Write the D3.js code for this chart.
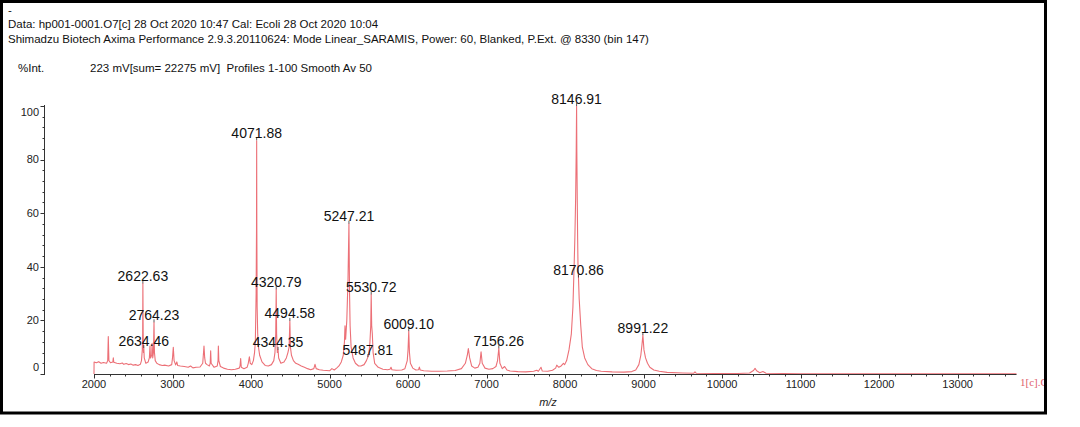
<!DOCTYPE html>
<html><head><meta charset="utf-8">
<script src="https://cdn.jsdelivr.net/npm/d3@7"></script>
<style>
html,body{margin:0;padding:0;background:#fff;}
svg text{font-family:"Liberation Sans",Arial,sans-serif;}
</style></head>
<body>
<svg id="chart" width="1080" height="427"></svg>
<script>
// ---- data ----
const headerLines = [
  "-",
  "Data: hp001-0001.O7[c] 28 Oct 2020 10:47 Cal: Ecoli 28 Oct 2020 10:04",
  "Shimadzu Biotech Axima Performance 2.9.3.20110624: Mode Linear_SARAMIS, Power: 60, Blanked, P.Ext. @ 8330 (bin 147)"
];
const yTitle = "%Int.";
const infoText = "223 mV[sum= 22275 mV]  Profiles 1-100 Smooth Av 50";
const xTitle = "m/z";
const traceLabel = "1[c].O7";
const xTicks = [2000,3000,4000,5000,6000,7000,8000,9000,10000,11000,12000,13000];
const yTicks = [0,20,40,60,80,100];
// spectrum trace: [m/z, %Int]
const spectrum = [
[2000,0],[2001,4.5],[2030,4.2],[2060,4.6],[2090,4.0],[2120,4.3],[2160,4.0],[2175,5],[2182,14],[2190,5],[2210,4.2],[2240,4.5],[2246,6],[2252,4.4],[2290,4.0],[2330,3.8],[2360,4.1],[2380,3.6],[2410,3.9],[2440,3.5],[2470,3.7],[2500,3.3],[2530,3.5],[2560,3.2],[2590,3.6],[2605,5],[2615,9],[2620,15],[2622.6,33.8],[2626,16],[2630,8],[2634.5,9.7],[2640,6],[2660,4],[2690,4.5],[2705,6],[2713,10.4],[2720,6],[2735,7],[2740,11.5],[2748,6],[2757,8],[2764.2,19.3],[2770,8],[2780,5],[2800,4],[2830,3.5],[2870,3.2],[2900,3.3],[2950,3.0],[2990,3.5],[3000,6],[3010,10],[3020,5],[3040,3.4],[3055,4.5],[3065,3.2],[3100,3],[3150,2.8],[3200,2.5],[3230,3],[3260,2.3],[3300,2.5],[3350,2.6],[3385,4],[3395,8],[3401,10.4],[3410,6],[3420,4],[3440,3.5],[3470,3],[3480,4],[3486,8.7],[3492,4],[3530,2.5],[3570,3],[3580,5],[3584,10.4],[3590,5],[3610,2.8],[3650,2.2],[3700,1.8],[3750,1.6],[3800,1.8],[3850,2.2],[3860,3],[3868,5.8],[3876,2.5],[3910,2],[3950,2.5],[3965,4],[3979,6.4],[3990,4],[4010,3.5],[4030,5],[4045,8],[4055,12],[4065,30],[4070,54],[4071.9,87],[4074,54],[4078,25],[4085,15],[4095,10],[4110,7],[4140,4.5],[4180,3.2],[4220,3],[4260,3.5],[4290,5],[4305,8],[4315,15],[4320.8,31.6],[4326,15],[4335,8],[4344.4,9],[4352,6],[4380,4],[4420,4.5],[4450,6],[4470,8],[4485,10],[4494.6,19.8],[4502,10],[4515,7],[4540,5],[4570,4],[4600,3.6],[4640,3],[4680,2.5],[4720,2],[4760,1.6],[4800,2],[4815,3.6],[4830,2],[4870,1.6],[4920,1.4],[4960,1.3],[5000,1.2],[5030,2],[5060,1.5],[5090,2.2],[5120,3],[5150,4.5],[5175,7],[5190,12],[5197,18],[5205,13],[5220,20],[5235,35],[5247.2,56.1],[5255,30],[5262,18],[5275,10],[5300,6],[5330,4],[5370,3],[5400,3],[5440,3.5],[5470,5],[5487.8,6.3],[5500,7],[5515,12],[5525,18],[5530.7,29.7],[5537,18],[5545,15],[5555,8],[5575,4],[5620,2.5],[5680,1.8],[5740,1.6],[5770,1.8],[5783,2.5],[5795,1.6],[5850,1.4],[5920,1.5],[5960,2],[5990,5],[6000,9],[6009.1,16],[6018,8],[6030,4],[6060,2.2],[6100,1.5],[6135,1.6],[6144,2.6],[6155,1.5],[6200,1.2],[6300,1],[6400,1],[6500,1.1],[6600,1.3],[6680,2],[6730,4],[6755,7],[6768,9.5],[6785,6],[6810,3],[6850,2.2],[6890,2.5],[6915,4],[6930,8.3],[6945,4],[6980,2.2],[7030,1.8],[7080,2],[7120,2.8],[7140,5],[7156.3,9.6],[7170,4],[7200,2],[7230,2.8],[7260,1.5],[7300,1.1],[7400,0.9],[7500,0.8],[7600,1],[7639,1.4],[7660,1],[7694,2.5],[7710,1.1],[7780,1],[7840,1.4],[7880,2.2],[7894,3.3],[7920,2.5],[7950,3],[7979,4],[7995,3.5],[8020,5],[8050,9],[8080,15],[8100,25],[8115,40],[8125,51],[8135,66],[8142,83],[8146.9,100],[8150,83],[8155,66],[8160,51],[8165,40],[8170.9,36],[8180,28],[8200,18],[8220,10],[8250,6],[8290,3.5],[8340,2],[8400,1.3],[8460,1],[8600,0.8],[8750,0.7],[8850,0.9],[8900,1.5],[8940,3.5],[8965,7],[8980,11],[8991.2,14.5],[9005,9],[9025,6],[9050,4],[9080,2.5],[9130,1.5],[9200,1],[9300,0.6],[9500,0.4],[9640,0.3],[9655,0.8],[9670,0.3],[9900,0.2],[10200,0.2],[10350,0.4],[10400,1.3],[10420,2.1],[10440,1.2],[10480,0.5],[10520,0.9],[10560,0.3],[11000,0.1],[12000,0.1],[13000,0.1],[13750,0.1]
];
const peakMz = [2622.63, 2634.46, 2764.23, 4071.88, 4320.79, 4344.35, 4494.58, 5247.21, 5487.81, 5530.72, 6009.10, 7156.26, 8146.91, 8170.86, 8991.22];
const peakInt = [33.8, 9.7, 19.3, 87.2, 31.6, 9.0, 19.8, 56.1, 6.3, 29.7, 16.0, 9.6, 100, 36.0, 14.5];

// ---- drawing ----
const svg = d3.select("#chart");
const x = d3.scaleLinear().domain([2000, 13750]).range([94, 1016.5]);
const y = d3.scaleLinear().domain([0, 100]).range([374, 106]);
const axisColor = "#333";
const red = "#ec7077";

// frame
svg.append("rect").attr("x",1.5).attr("y",1.5).attr("width",1044).attr("height",411.5)
  .attr("fill","#fff").attr("stroke","#000").attr("stroke-width",3);

// header
const hdrY = [10, 24, 39];
headerLines.forEach((t,i)=>{
  svg.append("text").attr("x", 8).attr("y", hdrY[i]).attr("dy","0.35em")
    .attr("font-size", 11.5).attr("fill","#111").text(t);
});
svg.append("text").attr("x",18).attr("y",68).attr("dy","0.35em").attr("font-size",11.5).attr("fill","#111").text(yTitle);
svg.append("text").attr("x",90).attr("y",68).attr("dy","0.35em").attr("font-size",11.5).attr("fill","#111")
  .attr("xml:space","preserve").style("white-space","pre").text(infoText);

// y axis
const gy = svg.append("g");
gy.append("line").attr("x1",44.5).attr("x2",44.5).attr("y1",y(100)-1).attr("y2",y(0)+1).attr("stroke",axisColor);
const yMinor = d3.range(0, 101, 4).filter(v => v % 20 !== 0);
gy.selectAll("line.minor").data(yMinor).join("line").attr("class","minor")
  .attr("x1",42.5).attr("x2",44.5).attr("y1",d=>Math.round(y(d))+0.5).attr("y2",d=>Math.round(y(d))+0.5).attr("stroke",axisColor);
gy.selectAll("line.major").data(yTicks).join("line").attr("class","major")
  .attr("x1",40.5).attr("x2",44.5).attr("y1",d=>Math.round(y(d))+0.5).attr("y2",d=>Math.round(y(d))+0.5).attr("stroke",axisColor);
gy.selectAll("text").data(yTicks).join("text")
  .attr("x",39).attr("y",d=> d===100 ? y(d)+6 : d===0 ? y(d)-7 : y(d))
  .attr("dy","0.35em").attr("text-anchor","end").attr("font-size",11).attr("fill","#222").text(d=>d);

// spectrum
const line = d3.line().x(d=>x(d[0])).y(d=>y(d[1]));
svg.append("path").datum(spectrum).attr("d",line).attr("fill","none")
  .attr("stroke",red).attr("stroke-width",1.1).attr("stroke-linejoin","round");

// x axis
const gx = svg.append("g");
gx.append("line").attr("x1",x(2000)).attr("x2",x(13750)).attr("y1",374.5).attr("y2",374.5).attr("stroke",axisColor);
const xMinor = d3.range(2000, 13751, 200).filter(v => v % 1000 !== 0);
gx.selectAll("line.minor").data(xMinor).join("line").attr("class","minor")
  .attr("x1",d=>Math.round(x(d))+0.5).attr("x2",d=>Math.round(x(d))+0.5).attr("y1",374.5).attr("y2",376.5).attr("stroke",axisColor);
gx.selectAll("line.major").data(xTicks).join("line").attr("class","major")
  .attr("x1",d=>Math.round(x(d))+0.5).attr("x2",d=>Math.round(x(d))+0.5).attr("y1",374.5).attr("y2",378.5).attr("stroke",axisColor);
gx.selectAll("text").data(xTicks).join("text")
  .attr("x",d=>x(d)).attr("y",384).attr("dy","0.35em").attr("text-anchor","middle")
  .attr("font-size",11).attr("fill","#222").text(d=>d);
svg.append("text").attr("x",548).attr("y",402).attr("dy","0.35em").attr("text-anchor","middle")
  .attr("font-size",11).attr("font-style","italic").attr("fill","#222").text(xTitle);

// trace label (clipped by frame)
svg.append("clipPath").attr("id","fclip").append("rect").attr("x",3).attr("y",3).attr("width",1041).attr("height",408);
svg.append("text").attr("clip-path","url(#fclip)").attr("x",1020).attr("y",382).attr("dy","0.35em")
  .style("font-family","'Liberation Serif',serif")
  .attr("font-size",11).attr("fill","#e0606a").text(traceLabel);

// peak labels
const peaks = peakMz.map((m,i)=>({m, v: peakInt[i]}));
const gp = svg.append("g");
gp.selectAll("line").data(peaks).join("line")
  .attr("x1",d=>x(d.m)).attr("x2",d=>x(d.m)).attr("y1",d=>y(d.v)-3).attr("y2",d=>y(d.v))
  .attr("stroke","#333").attr("stroke-width",0.8);
gp.selectAll("text").data(peaks).join("text")
  .attr("x",d=>x(d.m)).attr("y",d=>y(d.v)-2.5).attr("text-anchor","middle")
  .attr("font-size",14).attr("fill","#111").text(d=>d.m.toFixed(2));
</script>
</body></html>
